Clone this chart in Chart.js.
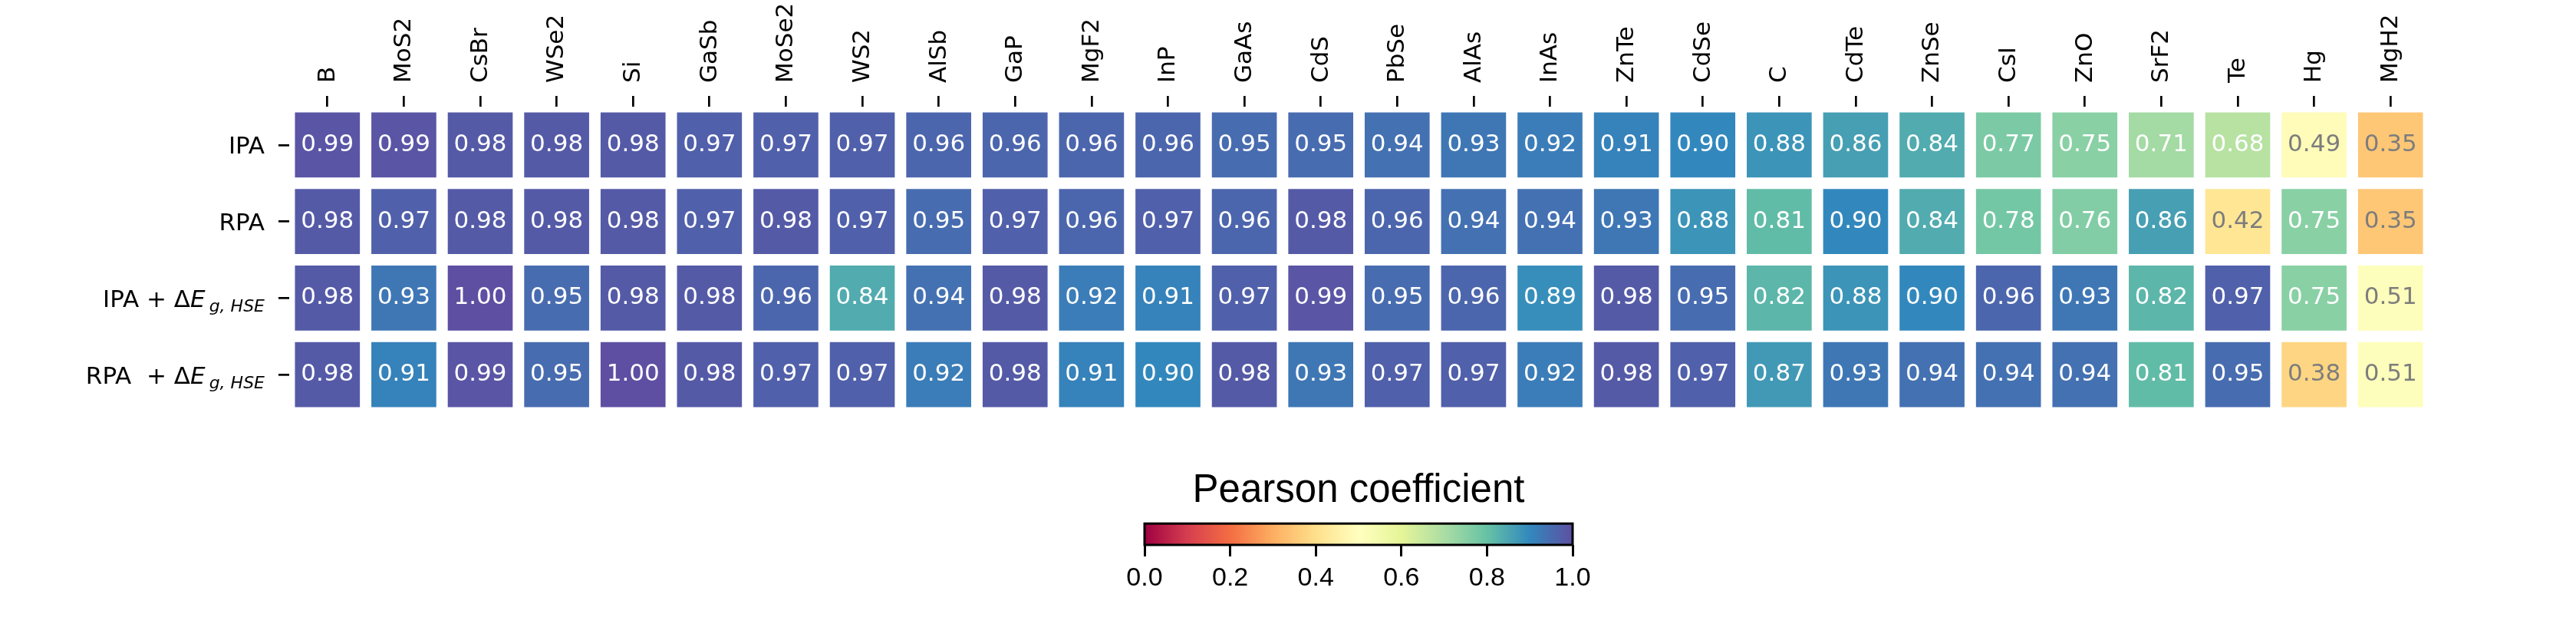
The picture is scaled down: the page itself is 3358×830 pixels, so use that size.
<!DOCTYPE html>
<html>
<head>
<meta charset="utf-8">
<script src="https://cdn.jsdelivr.net/npm/chart.js@4.4.1/dist/chart.umd.min.js"></script>
<style>
  html, body { margin: 0; padding: 0; background: #fff; }
  #wrap { position: relative; width: 3358px; height: 830px; }
  #heat { position: absolute; left: 0; top: 0; }
  #cbar { position: absolute; left: 1400px; top: 590px; }
</style>
</head>
<body>
<div id="wrap">
  <canvas id="heat" width="3358" height="830"></canvas>
  <canvas id="cbar" width="740" height="240"></canvas>
</div>
<script>
var materials = ["B", "MoS2", "CsBr", "WSe2", "Si", "GaSb", "MoSe2", "WS2", "AlSb", "GaP",
    "MgF2", "InP", "GaAs", "CdS", "PbSe", "AlAs", "InAs", "ZnTe", "CdSe", "C",
    "CdTe", "ZnSe", "CsI", "ZnO", "SrF2", "Te", "Hg", "MgH2"];

// row labels: [plain part, math part (Delta E), subscript]
var methods = [
    ["IPA", "", ""],
    ["RPA", "", ""],
    ["IPA + ", "E", "g, HSE"],
    ["RPA  + ", "E", "g, HSE"]
];

var ipa = [0.99, 0.99, 0.98, 0.98, 0.98, 0.97, 0.97, 0.97, 0.96, 0.96, 0.96, 0.96, 0.95, 0.95,
    0.94, 0.93, 0.92, 0.91, 0.90, 0.88, 0.86, 0.84, 0.77, 0.75, 0.71, 0.68, 0.49, 0.35];
var rpa = [0.98, 0.97, 0.98, 0.98, 0.98, 0.97, 0.98, 0.97, 0.95, 0.97, 0.96, 0.97, 0.96, 0.98,
    0.96, 0.94, 0.94, 0.93, 0.88, 0.81, 0.90, 0.84, 0.78, 0.76, 0.86, 0.42, 0.75, 0.35];
var ipa_hse = [0.98, 0.93, 1.00, 0.95, 0.98, 0.98, 0.96, 0.84, 0.94, 0.98, 0.92, 0.91, 0.97, 0.99,
    0.95, 0.96, 0.89, 0.98, 0.95, 0.82, 0.88, 0.90, 0.96, 0.93, 0.82, 0.97, 0.75, 0.51];
var rpa_hse = [0.98, 0.91, 0.99, 0.95, 1.00, 0.98, 0.97, 0.97, 0.92, 0.98, 0.91, 0.90, 0.98, 0.93,
    0.97, 0.97, 0.92, 0.98, 0.97, 0.87, 0.93, 0.94, 0.94, 0.94, 0.81, 0.95, 0.38, 0.51];

var cbarTicks = [0.0, 0.2, 0.4, 0.6, 0.8, 1.0];

// matplotlib "Spectral" colormap stops
var spectralStops = ["#9e0142", "#d53e4f", "#f46d43", "#fdae61", "#fee08b", "#ffffbf",
    "#e6f598", "#abdda4", "#66c2a5", "#3288bd", "#5e4fa2"];

function hexToRgb(h) {
    return [parseInt(h.substr(1, 2), 16), parseInt(h.substr(3, 2), 16), parseInt(h.substr(5, 2), 16)];
}

function spectral(v) {
    v = Math.max(0, Math.min(1, v));
    var pos = v * (spectralStops.length - 1);
    var i = Math.min(Math.floor(pos), spectralStops.length - 2);
    var t = pos - i;
    var a = hexToRgb(spectralStops[i]), b = hexToRgb(spectralStops[i + 1]);
    var c = a.map((x, k) => Math.round(x + (b[k] - x) * t));
    return "rgb(" + c.join(",") + ")";
}

var rows = [ipa, rpa, ipa_hse, rpa_hse];
var cellPad = 0.06;

var datasets = rows.map((vals, r) => ({
    label: methods[r].join(""),
    data: vals.map(() => [r + cellPad, r + 1 - cellPad]),
    values: vals,
    backgroundColor: vals.map((v) => spectral(v)),
    borderColor: "rgba(255,255,255,0.35)",
    borderWidth: 1.5,
    borderSkipped: false,
    grouped: false,
    barPercentage: 0.88,
    categoryPercentage: 1.0,
}));

//- cell annotations
var annotatePlugin = {
    id: "annotate",
    afterDatasetsDraw(chart) {
        var ctx = chart.ctx;
        ctx.save();
        ctx.font = "31px 'DejaVu Sans'";
        ctx.textAlign = "center";
        ctx.textBaseline = "alphabetic";
        chart.data.datasets.forEach((ds, di) => {
            var meta = chart.getDatasetMeta(di);
            meta.data.forEach((bar, i) => {
                var v = ds.values[i];
                var cy = (bar.y + bar.base) / 2;
                ctx.fillStyle = v < 0.6 ? "#7d7d7d" : "#ffffff";
                ctx.fillText(v.toFixed(2), bar.x, cy + 8);
            });
        });
        ctx.restore();
    },
};

//- row labels with the Delta E_{g,HSE} part
var rowLabelPlugin = {
    id: "rowLabels",
    afterDraw(chart) {
        var ctx = chart.ctx;
        var ys = chart.scales.y;
        var right = 345;
        var fs = 31;
        ctx.save();
        ctx.fillStyle = "#000";
        ctx.textBaseline = "alphabetic";
        ctx.textAlign = "left";
        methods.forEach((m, r) => {
            var base = ys.getPixelForValue(r + 0.5) + 11.5;
            var parts = [{ t: m[0], f: fs + "px 'DejaVu Sans'", dy: 0 }];
            if (m[1]) {
                parts.push({ t: "\u0394", f: fs + "px 'DejaVu Sans'", dy: 0 });
                parts.push({ t: m[1], f: "oblique " + fs + "px 'DejaVu Sans'", dy: 0, gap: 5 });
                parts.push({ t: m[2], f: "oblique " + Math.round(fs * 0.72) + "px 'DejaVu Sans'", dy: 6 });
            }
            var total = 0;
            parts.forEach((p) => {
                ctx.font = p.f;
                p.w = ctx.measureText(p.t).width + (p.gap || 0);
                total += p.w;
            });
            var x = right - total;
            parts.forEach((p) => {
                ctx.font = p.f;
                ctx.fillText(p.t, x, base + p.dy);
                x += p.w;
            });
        });
        ctx.restore();
    },
};

new Chart(document.getElementById("heat"), {
    type: "bar",
    data: { labels: materials, datasets: datasets },
    options: {
        responsive: false,
        animation: false,
        events: [],
        layout: { padding: { left: 0, right: 192, top: 0, bottom: 292 } },
        plugins: { legend: { display: false }, tooltip: { enabled: false } },
        scales: {
            x: {
                type: "category",
                position: "top",
                offset: true,
                ticks: {
                    font: { family: "DejaVu Sans", size: 31 },
                    color: "#000",
                    minRotation: 90,
                    maxRotation: 90,
                    autoSkip: false,
                    padding: 17,
                    labelOffset: 38,
                },
                grid: { offset: false, drawOnChartArea: false, drawTicks: true, tickLength: 14, color: "#000", lineWidth: 2.7 },
                border: { display: false },
                afterFit: (s) => { s.height = 139; },
            },
            y: {
                type: "linear",
                min: 0,
                max: 4,
                reverse: true,
                afterBuildTicks: (s) => { s.ticks = methods.map((m, i) => ({ value: i + 0.5 })); },
                ticks: { callback: () => "", padding: 0 },
                grid: { drawOnChartArea: false, drawTicks: true, tickLength: 14, color: "#000", lineWidth: 2.7 },
                border: { display: false },
                afterFit: (s) => { s.width = 377; },
            },
        },
    },
    plugins: [annotatePlugin, rowLabelPlugin],
});

//- colorbar
var gradientPlugin = {
    id: "gradientBar",
    beforeDatasetsDraw(chart) {
        var ctx = chart.ctx, ca = chart.chartArea;
        var g = ctx.createLinearGradient(ca.left, 0, ca.right, 0);
        spectralStops.forEach((c, i) => g.addColorStop(i / (spectralStops.length - 1), c));
        ctx.save();
        ctx.fillStyle = g;
        ctx.fillRect(ca.left, ca.top, ca.right - ca.left, ca.bottom - ca.top);
        ctx.restore();
    },
    afterDraw(chart) {
        var ctx = chart.ctx, ca = chart.chartArea;
        ctx.save();
        ctx.strokeStyle = "#000";
        ctx.lineWidth = 3;
        ctx.strokeRect(ca.left, ca.top, ca.right - ca.left, ca.bottom - ca.top);
        ctx.restore();
    },
};

new Chart(document.getElementById("cbar"), {
    type: "scatter",
    data: { datasets: [] },
    options: {
        responsive: false,
        animation: false,
        events: [],
        layout: { padding: { left: 92, right: 90, top: 0, bottom: 0 } },
        plugins: {
            legend: { display: false },
            tooltip: { enabled: false },
            title: {
                display: true,
                text: "Pearson coefficient",
                color: "#000",
                font: { family: "Liberation Sans", size: 51, weight: "normal" },
                padding: { top: 19, bottom: 12 },
            },
        },
        scales: {
            x: {
                type: "linear",
                min: 0,
                max: 1,
                afterBuildTicks: (s) => { s.ticks = cbarTicks.map((v) => ({ value: v })); },
                ticks: {
                    callback: (v) => v.toFixed(1),
                    font: { family: "Liberation Sans", size: 34 },
                    color: "#000",
                    maxRotation: 0,
                    padding: 8,
                },
                grid: { drawOnChartArea: false, drawTicks: true, tickLength: 15, color: "#000", lineWidth: 3 },
                border: { display: false },
                afterFit: (s) => { s.height = 120; },
            },
            y: { display: false, min: 0, max: 1 },
        },
    },
    plugins: [gradientPlugin],
});
</script>
</body>
</html>
